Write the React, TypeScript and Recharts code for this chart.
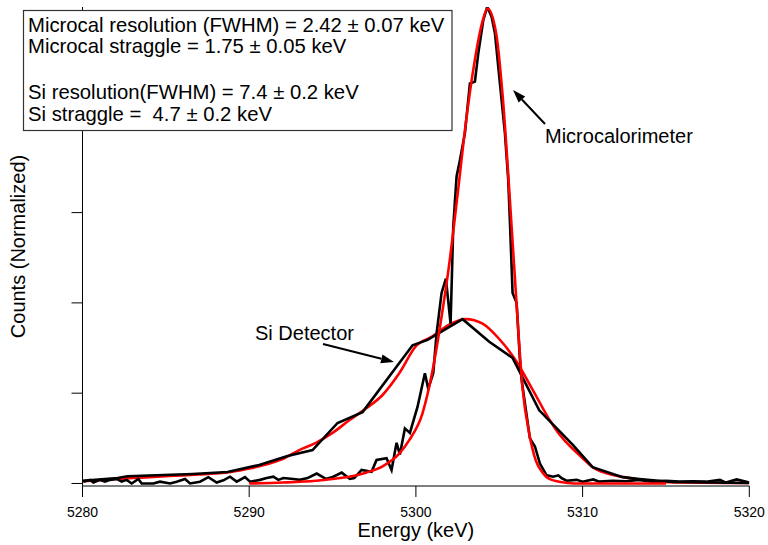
import { LineChart, Line, XAxis, YAxis, Label } from 'recharts';

// Si detector spectrum (coarse bins)
const siEnergy = [5280.0, 5282.1, 5282.7, 5286.6, 5288.7, 5290.6, 5292.3, 5293.8, 5295.3, 5296.8, 5299.8, 5300.7, 5302.8, 5304.4, 5305.8, 5307.4, 5309.4, 5310.6, 5312.4, 5313.4, 5315.4, 5320.0];
const siCounts = [0.03, 0.06, 0.08, 0.105, 0.127, 0.205, 0.305, 0.37, 0.67, 0.79, 1.53, 1.59, 1.82, 1.57, 1.39, 0.81, 0.43, 0.18, 0.07, 0.05, 0.017, 0.005];

// Si fit
const siFitEnergy = [5280, 5281, 5282, 5283, 5284, 5285, 5286, 5287, 5288, 5289, 5290, 5291, 5292, 5293, 5294, 5295, 5296, 5297, 5298, 5299, 5300, 5301, 5302, 5303, 5304, 5305, 5306, 5307, 5308, 5308.5, 5309, 5310, 5310.6, 5311.5, 5312.5, 5313.5, 5314.5, 5316, 5320];
const siFitCounts = [0.025, 0.035, 0.05, 0.06, 0.07, 0.08, 0.09, 0.1, 0.11, 0.13, 0.165, 0.21, 0.27, 0.37, 0.45, 0.56, 0.7, 0.83, 0.98, 1.22, 1.52, 1.63, 1.76, 1.82, 1.77, 1.6, 1.36, 1.04, 0.71, 0.57, 0.46, 0.28, 0.18, 0.11, 0.07, 0.04, 0.02, 0.01, 0.005];

// Microcalorimeter spectrum (fine bins)
const mcEnergy = [
  5280.05, 5280.45, 5280.65, 5281.05, 5281.35, 5281.65, 5282.05, 5282.35, 5282.65, 5282.95,
  5283.35, 5283.55, 5284.25, 5284.65, 5285.25, 5285.65, 5286.15, 5286.45, 5287.05, 5287.55,
  5288.05, 5288.45, 5288.85, 5289.25, 5289.75, 5290.05, 5290.65, 5291.05, 5291.45, 5291.75,
  5292.05, 5292.65, 5293.05, 5293.5, 5294.05, 5294.6, 5295.05, 5295.55, 5296.04, 5296.3,
  5296.74, 5297.34, 5297.64, 5298.24, 5298.54, 5298.84, 5299.04, 5299.34, 5299.64, 5300.1,
  5300.54, 5300.74, 5301.04, 5301.24, 5301.54, 5301.8, 5302.08, 5302.24, 5302.44, 5302.64,
  5302.94, 5303.24, 5303.54, 5303.74, 5304.04, 5304.28, 5304.54, 5304.74, 5305.04, 5305.34,
  5305.54, 5305.64, 5305.8, 5306.04, 5306.24, 5306.34, 5306.84, 5307.14, 5307.44, 5307.84,
  5308.24, 5308.54, 5308.74, 5309.04, 5309.64, 5310.0, 5310.64, 5311.0, 5311.8, 5312.6,
  5313.4, 5314.2, 5315.0, 5315.8, 5316.6, 5317.4, 5318.24, 5318.6, 5319.24, 5320.0,
];
const mcCounts = [
  0.02, 0.04, 0.01, 0.04, 0.02, 0.04, 0.05, 0.02, 0.04, 0.0,
  0.05, 0.0, 0.0, 0.02, 0.0, 0.02, 0.05, 0.0, 0.02, 0.07,
  0.01, 0.035, 0.075, 0.02, 0.07, 0.02, 0.04, 0.06, 0.075, 0.04,
  0.06, 0.05, 0.04, 0.06, 0.11, 0.05, 0.075, 0.12, 0.05, 0.06,
  0.15, 0.13, 0.26, 0.28, 0.15, 0.45, 0.32, 0.61, 0.56, 0.85,
  1.22, 1.05, 1.22, 1.66, 2.11, 2.27, 1.77, 2.84, 3.4, 3.58,
  3.88, 4.43, 4.45, 4.76, 5.13, 5.28, 5.17, 4.99, 4.43, 3.88,
  3.36, 2.9, 2.11, 2.0, 1.37, 1.15, 0.5, 0.41, 0.22, 0.09,
  0.075, 0.09, 0.06, 0.03, 0.04, 0.02, 0.045, 0.02, 0.03, 0.025,
  0.04, 0.02, 0.03, 0.02, 0.025, 0.02, 0.04, 0.01, 0.045, 0.01,
];

// Microcalorimeter fit
const mcFitEnergy = [5290, 5292, 5294, 5295, 5296, 5297, 5298, 5299, 5299.6, 5300.4, 5301, 5301.5, 5302, 5302.5, 5303, 5303.5, 5304, 5304.3, 5304.8, 5305.2, 5305.6, 5306, 5306.4, 5306.8, 5307.2, 5307.6, 5308, 5308.6, 5309.5, 5312, 5315];
const mcFitCounts = [0.0, 0.01, 0.03, 0.05, 0.075, 0.12, 0.19, 0.33, 0.48, 0.78, 1.25, 1.8, 2.43, 3.2, 4.0, 4.65, 5.12, 5.26, 5.0, 4.3, 3.25, 2.1, 1.05, 0.55, 0.25, 0.12, 0.05, 0.02, 0.0, 0.0, 0.0];

const energyTicks = [5280, 5290, 5300, 5310, 5320];
const countTicks = [0, 1, 2, 3, 4, 5];

const boxLines = [
  'Microcal resolution (FWHM) = 2.42 ± 0.07 keV',
  'Microcal straggle = 1.75 ± 0.05 keV',
  'Si resolution(FWHM) = 7.4 ± 0.2 keV',
  'Si straggle =  4.7 ± 0.2 keV',
];
const boxBaselines = [32, 53, 99, 121];

const toPoints = (xs: number[], ys: number[]) => xs.map((x, i) => ({ x, y: ys[i] }));

const siData = toPoints(siEnergy, siCounts);
const siFit = toPoints(siFitEnergy, siFitCounts);
const mcData = toPoints(mcEnergy, mcCounts);
const mcFit = toPoints(mcFitEnergy, mcFitCounts);

const FONT = '"Liberation Sans", Arial, Helvetica, sans-serif';

function Arrow({ x1, y1, x2, y2 }: { x1: number; y1: number; x2: number; y2: number }) {
  const a = Math.atan2(y2 - y1, x2 - x1);
  const len = 13;
  const half = 4.5;
  const bx = x2 - len * Math.cos(a);
  const by = y2 - len * Math.sin(a);
  const px = -Math.sin(a) * half;
  const py = Math.cos(a) * half;
  return (
    <g>
      <line x1={x1} y1={y1} x2={bx} y2={by} stroke="#000" strokeWidth={2} />
      <polygon points={`${x2},${y2} ${bx + px},${by + py} ${bx - px},${by - py}`} fill="#000" />
    </g>
  );
}

export default function App() {
  return (
    <div style={{ position: 'absolute', left: 0, top: 0, width: 768, height: 545, background: '#fff', fontFamily: FONT }}>
      <LineChart width={768} height={545} margin={{ top: 7, right: 18.7, bottom: 29, left: 13 }}>
        <XAxis
          dataKey="x"
          type="number"
          domain={[5280, 5320]}
          ticks={energyTicks}
          allowDataOverflow
          height={30}
          tickSize={11}
          tickMargin={10}
          stroke="#000"
          tick={{ fill: '#000', fontSize: 14, fontFamily: FONT }}
        >
          <Label value="Energy (keV)" position="bottom" offset={7} style={{ fill: '#000', fontSize: 20, fontFamily: FONT }} />
        </XAxis>
        <YAxis
          type="number"
          domain={[-0.028, 5.277]}
          ticks={countTicks}
          allowDataOverflow
          width={69.5}
          tickSize={11}
          stroke="#000"
          tickFormatter={() => ''}
        >
          <Label
            value="Counts (Normalized)"
            angle={-90}
            position="insideLeft"
            offset={5}
            style={{ fill: '#000', fontSize: 20, fontFamily: FONT, textAnchor: 'middle' }}
          />
        </YAxis>
        <Line data={siFit} dataKey="y" type="monotone" stroke="#ff0000" strokeWidth={2.6} dot={false} isAnimationActive={false} />
        <Line data={siData} dataKey="y" type="linear" stroke="#000" strokeWidth={2.6} dot={false} isAnimationActive={false} />
        <Line data={mcData} dataKey="y" type="linear" stroke="#000" strokeWidth={2.6} dot={false} isAnimationActive={false} />
        <Line data={mcFit} dataKey="y" type="monotone" stroke="#ff0000" strokeWidth={2.6} dot={false} isAnimationActive={false} />
      </LineChart>
      <svg width={768} height={545} style={{ position: 'absolute', left: 0, top: 0, pointerEvents: 'none' }}>
        <rect x={23.5} y={10.5} width={428.5} height={120} fill="#fff" stroke="#333" strokeWidth={1.2} />
        {boxLines.map((line, i) => (
          <text
            key={i}
            x={28}
            y={boxBaselines[i]}
            xmlSpace="preserve"
            fontFamily={FONT}
            fontSize={20.3}
            fill="#000"
            style={{ whiteSpace: 'pre' }}
          >
            {line}
          </text>
        ))}
        <g fontFamily={FONT} fontSize={20} fill="#000">
          <text x={545} y={143}>Microcalorimeter</text>
          <text x={255} y={340}>Si Detector</text>
        </g>
        <Arrow x1={545} y1={124} x2={513} y2={90} />
        <Arrow x1={323} y1={344} x2={394} y2={362} />
      </svg>
    </div>
  );
}
